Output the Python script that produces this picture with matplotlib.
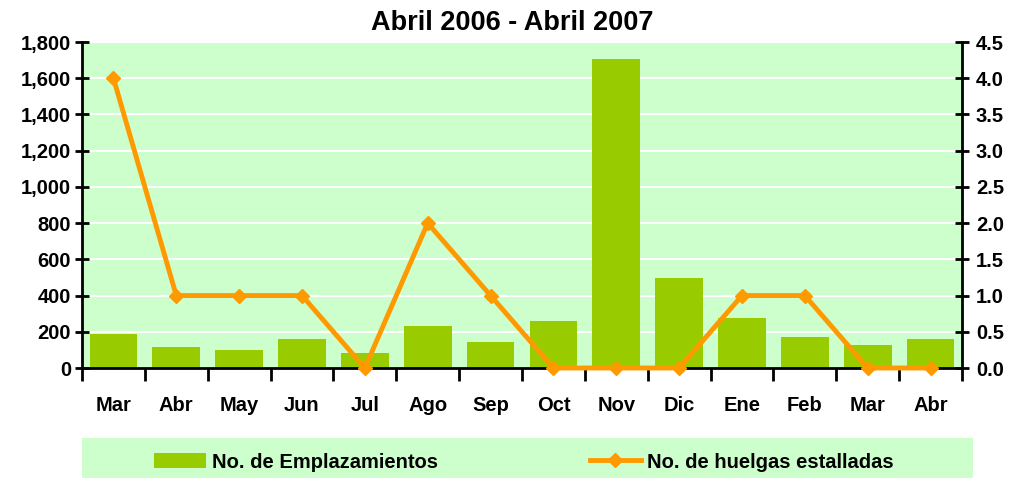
import matplotlib
matplotlib.use("Agg")
import matplotlib.pyplot as plt
from matplotlib.patches import Rectangle
from matplotlib.lines import Line2D
from matplotlib.ticker import FuncFormatter, MultipleLocator
import numpy as np

plt.rcParams['font.family'] = ['Liberation Sans', 'DejaVu Sans']
plt.rcParams['font.weight'] = 'bold'

months = ["Mar", "Abr", "May", "Jun", "Jul", "Ago", "Sep", "Oct", "Nov", "Dic", "Ene", "Feb", "Mar", "Abr"]
emplazamientos = [190, 115, 100, 160, 83, 232, 144, 260, 1705, 497, 276, 171, 127, 160]
huelgas = [4, 1, 1, 1, 0, 2, 1, 0, 0, 0, 1, 1, 0, 0]

title = "Abril 2006 - Abril 2007"
label_bar = "No. de Emplazamientos"
label_line = "No. de huelgas estalladas"

BG = "#CCFFCC"
BAR = "#99CC00"
LINE = "#FF9900"
FS = 14.5

fig = plt.figure(figsize=(10.13, 4.78), dpi=100)
ax = fig.add_axes([82/1013, 1-368/478, (962-82)/1013, (368-42)/478])
ax.set_facecolor(BG)
x = np.arange(len(months))
ax.bar(x, emplazamientos, width=0.76, color=BAR, zorder=2)
ax.set_xlim(-0.5, len(months)-0.5)
ax.set_ylim(0, 1800)
ax.yaxis.set_major_locator(MultipleLocator(200))
ax.yaxis.set_major_formatter(FuncFormatter(lambda v, p: f"{int(v):,}"))
ax.grid(axis='y', color='white', linewidth=1.5, zorder=1)
ax.set_axisbelow(True)
ax.set_xticks(x)
ax.set_xticklabels(months, fontsize=FS, fontweight='bold')
ax.set_xticks(np.arange(-0.5, len(months)), minor=True)
ax.tick_params(axis='x', which='major', length=0, pad=20)
ax.tick_params(axis='x', which='minor', length=9, width=2, direction='out')
ax.tick_params(axis='y', length=10, width=2, direction='inout', labelsize=FS, pad=3)
for lab in ax.get_yticklabels():
    lab.set_fontweight('bold')
for s in ['top', 'right']:
    ax.spines[s].set_visible(False)
for s in ['left', 'bottom']:
    ax.spines[s].set_linewidth(2)

ax2 = ax.twinx()
ax2.plot(x, huelgas, color=LINE, linewidth=3.5, marker='D', markersize=7,
         zorder=3, clip_on=False)
ax2.set_ylim(0, 4.5)
ax2.yaxis.set_major_locator(MultipleLocator(0.5))
ax2.yaxis.set_major_formatter(FuncFormatter(lambda v, p: f"{v:.1f}"))
ax2.tick_params(axis='y', length=10, width=2, direction='inout', labelsize=FS, pad=5)
for lab in ax2.get_yticklabels():
    lab.set_fontweight('bold')
for s in ['top', 'left', 'bottom']:
    ax2.spines[s].set_visible(False)
ax2.spines['right'].set_linewidth(2)

fig.text(512/1013, 1-23/478, title, ha='center', va='center', fontsize=19.5, fontweight='bold')

fig.patches.append(Rectangle((82/1013, 0), (973-82)/1013, 40/478,
                             transform=fig.transFigure, facecolor=BG, edgecolor='none', zorder=0))
handles = [Rectangle((0, 0), 1, 1, facecolor=BAR),
           Line2D([0], [0], color=LINE, linewidth=3.5, marker='D', markersize=7)]
fig.legend(handles, [label_bar, label_line], loc='center', bbox_to_anchor=(524/1013, 1-462/478),
           ncol=2, frameon=False, prop={'weight': 'bold', 'size': FS},
           handlelength=2.55, handleheight=0.8, handletextpad=0.3, columnspacing=7.55, borderpad=0)

fig.savefig("out.png", dpi=100)
